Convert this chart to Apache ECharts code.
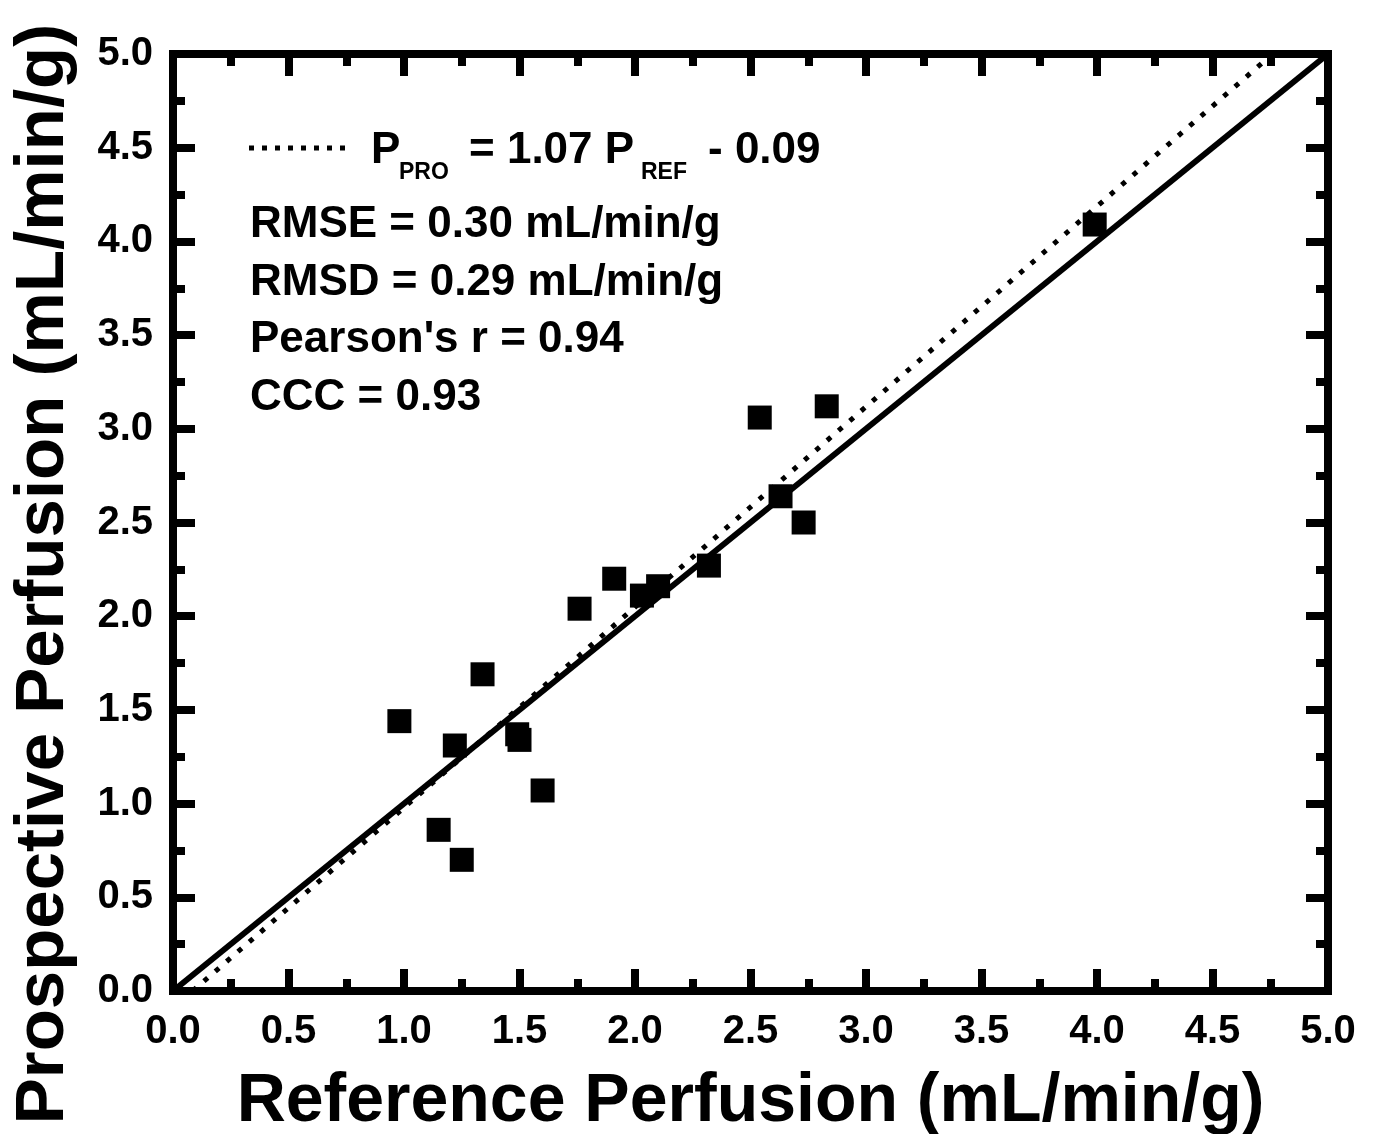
<!DOCTYPE html>
<html>
<head>
<meta charset="utf-8">
<script src="https://cdn.jsdelivr.net/npm/echarts@6/dist/echarts.min.js"></script>
<style>
html,body{margin:0;padding:0;background:#fff;}
#chart{width:1374px;height:1134px;}
</style>
</head>
<body>
<div id="chart"></div>
<script>
// ---- data ----
const refPerfusion = [0.98, 1.15, 1.22, 1.25, 1.34, 1.49, 1.50, 1.60, 1.76, 1.91, 2.03, 2.10, 2.32, 2.54, 2.63, 2.73, 2.83, 3.99];
const proPerfusion = [1.44, 0.86, 1.31, 0.70, 1.69, 1.37, 1.34, 1.07, 2.04, 2.20, 2.11, 2.16, 2.27, 3.06, 2.64, 2.50, 3.12, 4.09];
const identityX = [0.0, 5.0];
const identityY = [0.0, 5.0];
const fitX = [0.085, 4.76];
const fitY = [0.0, 5.0];
const axisTicks = ['0.0','0.5','1.0','1.5','2.0','2.5','3.0','3.5','4.0','4.5','5.0'];
const statLines = ['RMSE = 0.30 mL/min/g', 'RMSD = 0.29 mL/min/g', "Pearson's r = 0.94", 'CCC = 0.93'];
const xTitle = 'Reference Perfusion (mL/min/g)';
const yTitle = 'Prospective Perfusion (mL/min/g)';

const FONT = '"Liberation Sans", Arial, sans-serif';
const chart = echarts.init(document.getElementById('chart'));

function tickFmt(v) { return axisTicks[Math.round(v * 2)]; }

function axisBase(extra) {
  return Object.assign({
    type: 'value', min: 0, max: 5, interval: 0.5,
    axisLine: { show: true, onZero: false, lineStyle: { color: '#000', width: 8, cap: 'square' } },
    axisTick: { show: true, inside: true, length: 22, lineStyle: { color: '#000', width: 8 } },
    minorTick: { show: true, splitNumber: 2, length: 12, lineStyle: { color: '#000', width: 8 } },
    splitLine: { show: false },
    minorSplitLine: { show: false },
    axisLabel: { show: false }
  }, extra || {});
}

const statGraphics = statLines.map(function (t, i) {
  return {
    type: 'text', left: 250, top: 203 + i * 57.5,
    style: { text: t, font: 'bold 44px ' + FONT, fill: '#000' }
  };
});

chart.setOption({
  animation: false,
  backgroundColor: '#fff',
  grid: { left: 173, right: 46, top: 54, bottom: 143, containLabel: false, outerBoundsMode: 'none' },
  xAxis: [
    axisBase({
      position: 'bottom',
      axisLabel: {
        show: true, margin: 21, color: '#000', fontFamily: FONT, fontWeight: 'bold', fontSize: 40,
        formatter: tickFmt
      },
      name: xTitle, nameLocation: 'middle', nameGap: 77,
      nameTextStyle: { color: '#000', fontFamily: FONT, fontWeight: 'bold', fontSize: 68 }
    }),
    axisBase({ position: 'top' })
  ],
  yAxis: [
    axisBase({
      position: 'left',
      axisLabel: {
        show: true, margin: 20, color: '#000', fontFamily: FONT, fontWeight: 'bold', fontSize: 40,
        formatter: tickFmt
      }
    }),
    axisBase({ position: 'right' })
  ],
  series: [
    {
      type: 'line', xAxisIndex: 0, yAxisIndex: 0, symbol: 'none', silent: true,
      data: identityX.map(function (x, i) { return [x, identityY[i]]; }),
      lineStyle: { color: '#000', width: 6 }, z: 3
    },
    {
      type: 'line', xAxisIndex: 0, yAxisIndex: 0, symbol: 'none', silent: true,
      data: fitX.map(function (x, i) { return [x, fitY[i]]; }),
      lineStyle: { color: '#000', width: 5, type: [5, 10] }, z: 3
    },
    {
      type: 'scatter', xAxisIndex: 0, yAxisIndex: 0, symbol: 'rect', symbolSize: 24,
      data: refPerfusion.map(function (x, i) { return [x, proPerfusion[i]]; }),
      itemStyle: { color: '#000', opacity: 1 }, z: 4
    }
  ],
  graphic: [
    {
      type: 'line', shape: { x1: 249, y1: 148, x2: 349, y2: 148 },
      style: { stroke: '#000', lineWidth: 5, lineDash: [5, 8] }
    },
    { type: 'text', left: 371, top: 129, style: { text: 'P', font: 'bold 44px ' + FONT, fill: '#000' } },
    { type: 'text', left: 399, top: 161, style: { text: 'PRO', font: 'bold 23px ' + FONT, fill: '#000' } },
    { type: 'text', left: 469, top: 129, style: { text: '= 1.07 P', font: 'bold 44px ' + FONT, fill: '#000' } },
    { type: 'text', left: 641, top: 161, style: { text: 'REF', font: 'bold 23px ' + FONT, fill: '#000' } },
    { type: 'text', left: 708, top: 129, style: { text: '- 0.09', font: 'bold 44px ' + FONT, fill: '#000' } },
    {
      type: 'text', x: 44, y: 574, rotation: Math.PI / 2,
      style: { text: yTitle, font: 'bold 69px ' + FONT, fill: '#000', align: 'center', verticalAlign: 'middle' }
    }
  ].concat(statGraphics)
});
</script>
</body>
</html>
